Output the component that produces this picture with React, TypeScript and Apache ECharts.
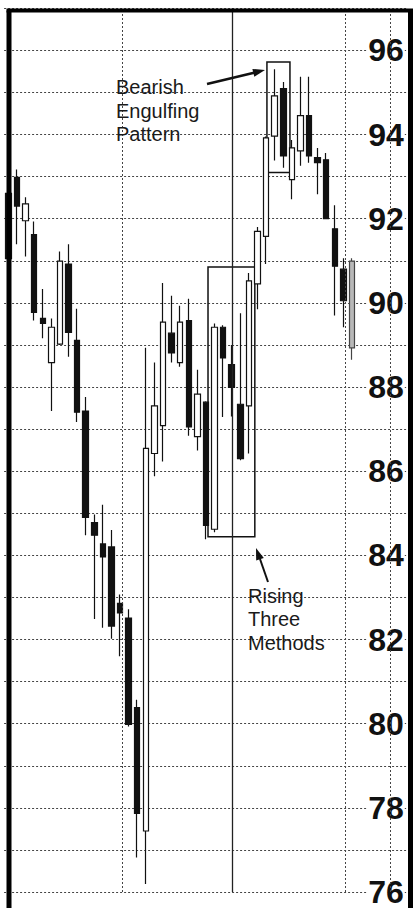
import React, { useEffect, useRef } from "react";
import * as echarts from "echarts";

// Session numbers (41 trading sessions + empty slots to the right edge)
const sessions: string[] = [
  "1","2","3","4","5","6","7","8","9","10","11","12","13","14","15","16","17","18","19","20",
  "21","22","23","24","25","26","27","28","29","30","31","32","33","34","35","36","37","38","39","40","41",
  "","","","","","",
];

const opens = [92.6, 92.98, 91.95, 91.62, 89.63, 88.58, 89.02, 90.92, 89.11, 87.43, 84.78, 84.27, 84.2, 82.86, 82.51, 80.38, 77.45, 86.42, 87.08, 89.28, 88.58, 89.58, 86.82, 87.64, 84.62, 89.42, 88.53, 87.59, 87.55, 90.45, 91.58, 93.96, 95.09, 92.93, 93.61, 94.45, 93.45, 93.4, 91.76, 90.8, 90.99];
const closes = [91.05, 92.3, 92.35, 89.77, 89.51, 89.42, 90.99, 89.3, 87.4, 84.9, 84.48, 83.96, 82.32, 82.63, 79.98, 77.87, 86.54, 87.55, 89.54, 88.81, 89.54, 87.05, 87.83, 84.71, 89.42, 88.69, 87.99, 86.3, 90.52, 91.7, 93.92, 94.92, 93.49, 93.68, 94.45, 93.49, 93.33, 92.0, 90.87, 90.05, 88.93];
const lows = [90.8, 91.39, 91.1, 89.58, 89.16, 87.43, 89.0, 88.72, 87.17, 84.48, 82.49, 82.28, 82.02, 81.6, 79.93, 76.82, 76.19, 85.88, 86.23, 88.58, 88.48, 86.84, 86.49, 84.38, 84.55, 87.29, 87.3, 86.26, 86.42, 89.85, 90.92, 93.38, 93.21, 92.46, 93.26, 93.33, 92.58, 92.0, 89.7, 89.42, 88.65];
const highs = [93.0, 93.17, 92.51, 91.93, 90.33, 89.63, 91.22, 91.39, 89.86, 87.76, 84.97, 85.2, 84.6, 83.07, 82.72, 80.57, 88.93, 88.58, 90.47, 90.17, 89.93, 90.1, 88.41, 87.66, 89.51, 89.47, 89.0, 89.75, 90.71, 91.8, 93.95, 95.55, 95.25, 93.87, 95.37, 95.37, 93.68, 93.56, 92.32, 91.06, 91.06];

// index of the last (grey, light-printed) session
const greySessions = [40];

const yTickLabels = ["76", "78", "80", "82", "84", "86", "88", "90", "92", "94", "96"];

// vertical separators (positions in session units), solid or dotted
const separators = [13.23, 26.03, 39.19, 44.42];
const separatorSolid = [false, true, false, false];

// pattern boxes: [xFrom, yTop, xTo, yBottom] in session / price units
const bearishBox = [30.1, 95.72, 32.78, 93.1];
const risingBox = [23.24, 90.85, 28.69, 84.44];

export default function App() {
  const ref = useRef<HTMLDivElement>(null);

  useEffect(() => {
    if (!ref.current) return;
    const chart = echarts.init(ref.current, undefined, { renderer: "svg" });

    const candleData = opens.map((o, i) => {
      const v = [o, closes[i], lows[i], highs[i]];
      if (greySessions.includes(i)) {
        return {
          value: v,
          itemStyle: { color: "#b8b8b8", color0: "#b8b8b8", borderColor: "#444", borderColor0: "#444" },
        };
      }
      return { value: v };
    });

    const boxStyle = { color: "rgba(0,0,0,0)", borderColor: "#111", borderWidth: 1.5 };

    const option: any = {
      animation: false,
      backgroundColor: "#fff",
      grid: { left: 4.1, right: 6.2, top: 8.25, bottom: 2, containLabel: false },
      xAxis: [
        {
          type: "category",
          data: sessions,
          boundaryGap: true,
          axisLine: { show: false },
          axisTick: { show: false },
          axisLabel: { show: false },
          splitLine: { show: false },
        },
        {
          type: "value",
          min: -0.5,
          max: 46.5,
          show: false,
          splitLine: { show: false },
        },
      ],
      yAxis: {
        type: "value",
        position: "right",
        min: 76,
        max: 97,
        interval: 1,
        axisLine: { show: false },
        axisTick: { show: false },
        axisLabel: {
          inside: true,
          margin: 3,
          fontFamily: "Liberation Sans",
          fontSize: 32,
          fontWeight: "bold",
          color: "#111",
          backgroundColor: "#fff",
          padding: [0, 1, 0, 1],
          formatter: (v: number) => (yTickLabels.includes(String(v)) ? String(v) : ""),
        },
        splitLine: { show: true, lineStyle: { color: "#444", width: 1, type: [2, 2] } },
      },
      series: [
        {
          type: "candlestick",
          data: candleData,
          barWidth: 6,
          itemStyle: {
            color: "#fff",
            color0: "#111",
            borderColor: "#111",
            borderColor0: "#111",
            borderWidth: 1.2,
          },
          z: 3,
        },
        {
          type: "line",
          xAxisIndex: 1,
          data: [[-0.5, 76]],
          symbol: "none",
          lineStyle: { opacity: 0 },
          silent: true,
          z: 4,
          markLine: {
            silent: true,
            symbol: ["none", "none"],
            label: { show: false },
            data: separators.map((s, i) => ({
              xAxis: s,
              lineStyle: {
                color: separatorSolid[i] ? "#222" : "#444",
                width: separatorSolid[i] ? 1.3 : 1,
                type: separatorSolid[i] ? "solid" : [2, 2],
              },
            })),
          },
          markArea: {
            silent: true,
            itemStyle: boxStyle,
            data: [
              [
                { xAxis: bearishBox[0], yAxis: bearishBox[1] },
                { xAxis: bearishBox[2], yAxis: bearishBox[3] },
              ],
              [
                { xAxis: risingBox[0], yAxis: risingBox[1] },
                { xAxis: risingBox[2], yAxis: risingBox[3] },
              ],
            ],
          },
        },
      ],
      graphic: [
        // frame
        { type: "line", z: 100, shape: { x1: 9, y1: 10.5, x2: 9, y2: 908 }, style: { stroke: "#000", lineWidth: 5 } },
        { type: "line", z: 100, shape: { x1: 410.5, y1: 10.5, x2: 410.5, y2: 908 }, style: { stroke: "#000", lineWidth: 5 } },
        { type: "line", z: 100, shape: { x1: 6.5, y1: 10.5, x2: 413, y2: 10.5 }, style: { stroke: "#000", lineWidth: 4 } },
        // Bearish Engulfing annotation
        { type: "text", z: 100, style: { text: "Bearish", x: 116, y: 87, font: '20px "Liberation Sans"', fill: "#1a1a1a", textVerticalAlign: "middle", textAlign: "left" } },
        { type: "text", z: 100, style: { text: "Engulfing", x: 116, y: 111, font: '20px "Liberation Sans"', fill: "#1a1a1a", textVerticalAlign: "middle", textAlign: "left" } },
        { type: "text", z: 100, style: { text: "Pattern", x: 116, y: 134, font: '20px "Liberation Sans"', fill: "#1a1a1a", textVerticalAlign: "middle", textAlign: "left" } },
        { type: "line", z: 100, shape: { x1: 207, y1: 84, x2: 254, y2: 72.7 }, style: { stroke: "#111", lineWidth: 2.5 } },
        { type: "polygon", z: 100, shape: { points: [[265, 70], [254.3, 76.7], [252.4, 68.9]] }, style: { fill: "#111" } },
        // Rising Three Methods annotation
        { type: "text", z: 100, style: { text: "Rising", x: 248, y: 596, font: '20px "Liberation Sans"', fill: "#1a1a1a", textVerticalAlign: "middle", textAlign: "left" } },
        { type: "text", z: 100, style: { text: "Three", x: 248, y: 619, font: '20px "Liberation Sans"', fill: "#1a1a1a", textVerticalAlign: "middle", textAlign: "left" } },
        { type: "text", z: 100, style: { text: "Methods", x: 248, y: 643, font: '20px "Liberation Sans"', fill: "#1a1a1a", textVerticalAlign: "middle", textAlign: "left" } },
        { type: "line", z: 100, shape: { x1: 268, y1: 582, x2: 260, y2: 559 }, style: { stroke: "#111", lineWidth: 2 } },
        { type: "polygon", z: 100, shape: { points: [[256, 548], [263.8, 558], [256.2, 560.6]] }, style: { fill: "#111" } },
      ],
    };

    chart.setOption(option);
    return () => chart.dispose();
  }, []);

  return (
    <div
      ref={ref}
      style={{ position: "absolute", left: 0, top: 0, width: 414, height: 908, background: "#fff" }}
    />
  );
}
